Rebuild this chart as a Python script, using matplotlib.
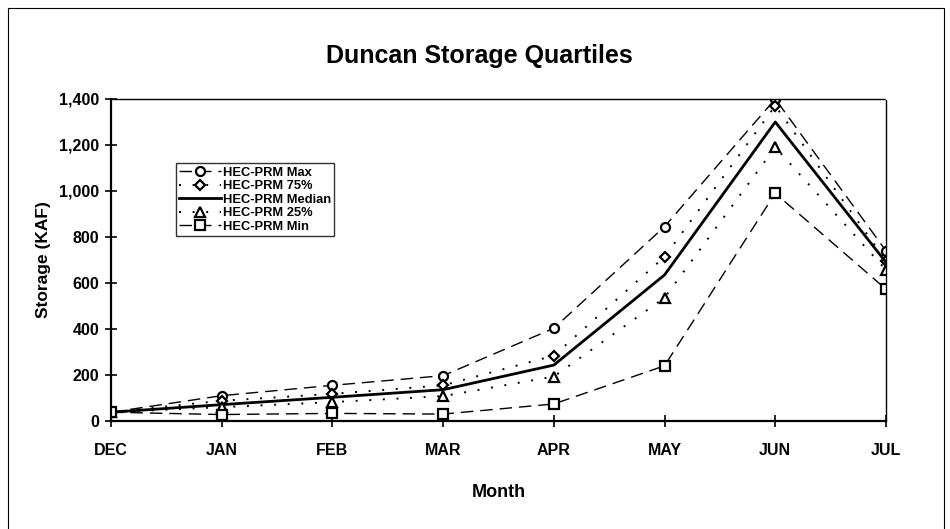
#Duncan storage quartiles chart

import matplotlib
matplotlib.use('Agg')
import matplotlib.pyplot as plt
from matplotlib.patches import Rectangle
from matplotlib.ticker import FuncFormatter

plt.rcParams['font.family'] = ['Liberation Sans', 'DejaVu Sans']
plt.rcParams['font.weight'] = 'bold'

# データ (KAF)
months = ['DEC', 'JAN', 'FEB', 'MAR', 'APR', 'MAY', 'JUN', 'JUL']
prm_max = [38, 110, 155, 197, 403, 845, 1400, 740]
prm_75 = [38, 88, 118, 155, 284, 714, 1370, 697]
prm_median = [38, 71, 103, 136, 243, 635, 1300, 690]
prm_25 = [38, 60, 82, 108, 193, 536, 1190, 657]
prm_min = [38, 28, 33, 30, 74, 240, 990, 573]

x = list(range(len(months)))

fig = plt.figure(figsize=(9.5, 5.29), dpi=100)
ax = fig.add_axes([0.1168, 0.2042, 0.8158, 0.6087])

# 外枠
fig.patches.append(Rectangle((8/950, -0.05), 936/950, 1.05 - 8/529, transform=fig.transFigure,
                             fill=False, edgecolor='black', linewidth=0.8))

mk = dict(markersize=6.5, markerfacecolor='white', markeredgecolor='black', markeredgewidth=1.6, color='black')
ax.plot(x, prm_max, marker='o', linestyle=(0, (9, 5)), linewidth=1.0, label='HEC-PRM Max', **mk)
ax.plot(x, prm_75, marker='D', linestyle=(0, (1, 6)), linewidth=1.4, label='HEC-PRM 75%',
        **{**mk, 'markersize': 5})
ax.plot(x, prm_median, linestyle='-', linewidth=2.0, color='black', label='HEC-PRM Median')
ax.plot(x, prm_25, marker='^', linestyle=(0, (1, 6)), linewidth=1.4, label='HEC-PRM 25%', **mk)
ax.plot(x, prm_min, marker='s', linestyle=(0, (9, 5)), linewidth=1.0, label='HEC-PRM Min', **mk)

ax.set_xlim(0, len(months) - 1)
ax.set_ylim(0, 1400)
ax.set_yticks(range(0, 1401, 200))
ax.yaxis.set_major_formatter(FuncFormatter(lambda v, p: '{:,.0f}'.format(v)))
ax.set_xticks(x)
ax.set_xticklabels(months)

for s in ['top', 'right']:
    ax.spines[s].set_linestyle((0, (1, 1)))
    ax.spines[s].set_linewidth(1.0)
ax.spines['left'].set_linewidth(1.6)
ax.spines['bottom'].set_linewidth(1.6)

ax.tick_params(axis='both', direction='inout', length=9, width=1.2, labelsize=11.5)
ax.tick_params(axis='x', pad=11)
ax.tick_params(axis='y', pad=4)

ax.set_title('Duncan Storage Quartiles', fontsize=18, fontweight='bold', pad=26, x=0.475)
ax.set_xlabel('Month', fontsize=13, fontweight='bold', labelpad=19)
ax.set_ylabel('Storage (KAF)', fontsize=12.5, fontweight='bold', labelpad=6)

leg = ax.legend(loc='upper left', bbox_to_anchor=(0.084, 0.80), fontsize=9.3, frameon=True,
                fancybox=False, edgecolor='black', handlelength=3.2, handletextpad=0.15,
                labelspacing=0.12, borderpad=0.25, borderaxespad=0)
leg.get_frame().set_linewidth(1.0)

fig.savefig('out.png', dpi=100)
